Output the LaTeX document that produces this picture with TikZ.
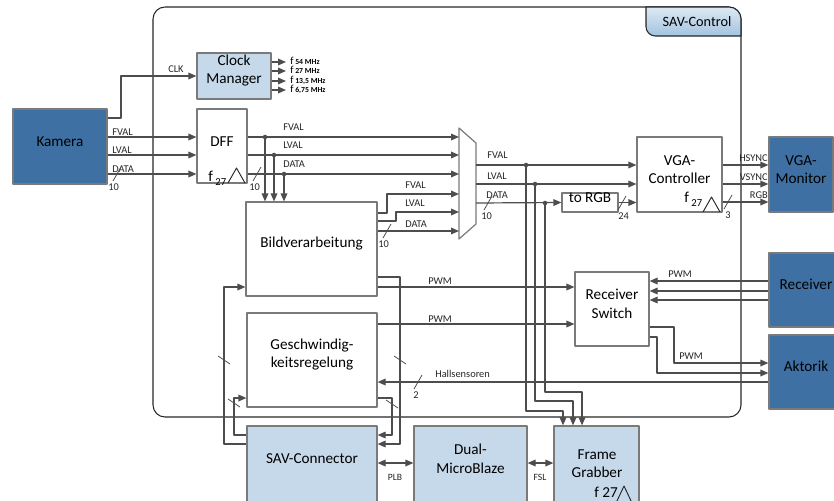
\documentclass[tikz,border=0pt]{standalone}
\usepackage{fontspec}
\setmainfont{Carlito}
\usetikzlibrary{arrows.meta,positioning,calc,fit}
\definecolor{extblue}{HTML}{3E70A3}
\definecolor{socblue}{HTML}{C6D9EA}
\definecolor{wiregray}{HTML}{4D4D4D}
\definecolor{edgegray}{HTML}{7A7A7A}
\definecolor{tabtop}{HTML}{DDE9F4}
\definecolor{tabbot}{HTML}{A3C3DE}

\begin{document}
\begin{tikzpicture}[x=0.75pt,y=-0.75pt,line join=round,
  >={Triangle[length=6pt,width=5pt]},
  blk/.style={draw=edgegray,line width=0.9pt,fill=white,inner sep=0pt,align=center,
    font=\fontsize{11.4}{13.6}\selectfont},
  extblk/.style={blk,fill=extblue},
  socblk/.style={blk,fill=socblue},
  wire/.style={draw=wiregray,line width=0.9pt},
  sig/.style={wire,->},
  bsig/.style={wire,<->},
  tag/.style={font=\fontsize{7.8}{9}\selectfont,inner sep=0pt,text=black!85},
  big/.style={font=\fontsize{11.4}{13.6}\selectfont,inner sep=0pt},
  dot/.style={circle,fill=wiregray,inner sep=0pt,minimum size=3.4pt},
  tick/.style={draw=wiregray,line width=0.6pt},
  clkmark/.style={draw=black!85,line width=0.7pt}]
\useasboundingbox (0,0) rectangle (834,500);

\node[fit={(153,7) (741,417)},draw=black!85,line width=0.8pt,rounded corners=9pt,inner sep=0pt] (ctl) {};
\draw[black!85,line width=0.8pt,top color=tabtop,bottom color=tabbot]
  (646,7) [rounded corners=7pt] -- (646,36) [sharp corners] -- (741,36)
  [rounded corners=9pt] -- (741,7) [sharp corners] -- cycle;
\node[inner sep=0pt,font=\fontsize{10.7}{12}\selectfont] (ctltag) at (697,22) {SAV-Control};

\node[extblk,fit={(13,109) (107,184)}] (kam) {Kamera};
\node[socblk,fit={(197,53) (271,99)}] (clk) {Clock\\Manager};
\node[blk,fit={(197,109) (247,183)}] (dff) {DFF};
\node[blk,fit={(246,202) (377,296)}] (bild) {Bildverarbeitung};
\node[blk,fit={(247,313) (377,407)}] (gesch) {Geschwindig-\\keitsregelung};
\node[socblk,fit={(247,426) (377,502)}] (sav) {SAV-Connector};
\node[socblk,fit={(414,426) (527,502)}] (mb) {Dual-\\MicroBlaze};
\node[socblk,fit={(554,426) (639,520)}] (fg) {};
\node[big,align=center] (fgname) at (597,464) {Frame\\Grabber};
\node[big,anchor=base west] (fgclk) at (594,497) {f 27};
\draw[clkmark] (616,503) -- (624,486) -- (632,503);
\node[blk,fit={(562,193) (618,212)}] (rgb) {to RGB};
\node[blk,fit={(637,137) (722,212)}] (vga) {VGA-\\Controller};
\node[extblk,fit={(769,137) (833,212)}] (mon) {VGA-\\Monitor};
\node[blk,fit={(575,272) (649,346)}] (rsw) {Receiver\\Switch};
\node[extblk,fit={(769,253) (843,327)}] (rcv) {Receiver};
\node[extblk,fit={(769,335) (843,409)}] (akt) {Aktorik};

\draw[draw=edgegray,line width=0.9pt,fill=white] (459,128) -- (476,143) -- (476,224) -- (459,239) -- cycle;
\coordinate (muxin) at (459,183);
\coordinate (muxout) at (476,183);

\node[big,anchor=base west] (dffclk) at (208,181) {f\,\raisebox{-3pt}{\fontsize{8}{9}\selectfont 27}};
\draw[clkmark] (228,183) -- (236.5,168) -- (245,183);
\node[big,anchor=base west] (vgaclk) at (684,202) {f\,\raisebox{-3pt}{\fontsize{8}{9}\selectfont 27}};
\draw[clkmark] (703,212) -- (711.5,197) -- (720,212);

\draw[sig] (kam.east |- 0,118) -- (121,118) |- (clk.west);
\node[tag,anchor=base west] (clkl) at (168,72) {CLK};
\foreach \fy/\fs [count=\i] in {62/54 MHz,71/27 MHz,81/{13,5 MHz},90/{6,75 MHz}}{
  \coordinate (fo\i) at (286,\fy);
  \draw[sig] (clk.east |- fo\i) -- (fo\i);
  \node[anchor=base west,inner sep=0pt] (fl\i) at (290,\fy+2)
    {\fontsize{8}{8}\selectfont f\,\fontsize{5.8}{6}\selectfont\bfseries\fs};
}

\foreach \ry/\rn in {137/FVAL,155/LVAL,174/DATA}{
  \draw[sig] (kam.east |- 0,\ry) -- (dff.west |- 0,\ry);
  \draw[sig] (dff.east |- 0,\ry) -- (muxin |- 0,\ry);
  \node[tag,anchor=base west] (kl\rn) at (112,\ry-2) {\rn};
  \node[tag,anchor=base west] (dl\rn) at (283,\ry-7) {\rn};
}
\foreach \tx/\ty in {265/137,274/155,284/174}{
  \node[dot] (tp\tx) at (\tx,\ty) {};
  \draw[sig] (tp\tx.center) -- (tp\tx.center |- bild.north);
}

\draw[sig] (bild.east |- 0,213) -- (387,213) |- (muxin |- 0,194);
\draw[sig] (bild.east |- 0,221) -- (396,221) |- (muxin |- 0,212);
\draw[sig] (bild.east |- 0,231) -- (muxin |- 0,231);
\node[tag,anchor=base west] (blF) at (405,188) {FVAL};
\node[tag,anchor=base west] (blL) at (405,206) {LVAL};
\node[tag,anchor=base west] (blD) at (405,227) {DATA};

\draw[sig] (muxout |- 0,165) -- (vga.west |- 0,165);
\draw[sig] (muxout |- 0,184) -- (vga.west |- 0,184);
\draw[sig] (muxout |- 0,203) -- (rgb.west);
\draw[sig] (rgb.east) -- (vga.west |- rgb.east);
\node[tag,anchor=base west] (mlF) at (487,158) {FVAL};
\node[tag,anchor=base west] (mlL) at (487,179) {LVAL};
\node[tag,anchor=base west] (mlD) at (486,198) {DATA};
\foreach \tx/\ty/\hy/\gx in {526/165/411/563,535/184/401/573,545/203/392/582}{
  \node[dot] (mt\tx) at (\tx,\ty) {};
  \draw[sig] (mt\tx.center) |- (\gx,\hy) -- (\gx,0 |- fg.north);
}

\foreach \vy/\vn in {165/HSYNC,184/VSYNC,202/RGB}{
  \draw[sig] (vga.east |- 0,\vy) -- (mon.west |- 0,\vy);
  \node[tag,anchor=base east] (vl\vn) at (768,\vy-4) {\vn};
}

\draw[sig] (bild.east |- 0,287) -- (rsw.west |- 0,287);
\draw[sig] (gesch.east |- 0,324) -- (rsw.west |- 0,324);
\node[tag,anchor=base west] (pwm1) at (428,284) {PWM};
\node[tag,anchor=base west] (pwm2) at (428,322) {PWM};
\foreach \ry in {281,291,300}
  \draw[sig] (rcv.west |- 0,\ry) -- (rsw.east |- 0,\ry);
\node[tag,anchor=base west] (pwm3) at (668,277) {PWM};
\draw[sig] (rsw.east |- 0,327) -- (674,327) |- (akt.west |- 0,363);
\draw[sig] (rsw.east |- 0,337) -- (657,337) |- (akt.west |- 0,373);
\node[tag,anchor=base west] (pwm4) at (679,359) {PWM};
\draw[sig] (akt.west |- 0,382) -- (gesch.east |- 0,382);
\node[tag,anchor=base west] (hall) at (435,377) {Hallsensoren};

\draw[sig] (sav.west |- 0,444) -- (224,444) |- (bild.west |- 0,287);
\draw[sig] (sav.west |- 0,435) -- (234,435) |- (gesch.west |- 0,398);
\draw[sig] (bild.east |- 0,277) -- (400,277) |- (sav.east |- 0,444);
\draw[sig] (gesch.east |- 0,398) -- (392,398) |- (sav.east |- 0,435);

\draw[bsig] (sav.east |- 0,463) -- (mb.west |- 0,463);
\draw[bsig] (mb.east |- 0,463) -- (fg.west |- 0,463);
\node[tag,font=\fontsize{7.2}{8}\selectfont] (plb) at (395,477) {PLB};
\node[tag,font=\fontsize{7.2}{8}\selectfont] (fsl) at (540,477) {FSL};

\foreach \tx/\ty/\tn/\lx in {117/174/10/108,257/174/10/249,387/231/10/378,488/203/10/481,622/203/24/618,728/202/3/725,418/382/2/413}{
  \draw[tick] (\tx-4,\ty+7) -- (\tx+4,\ty-7);
  \node[tag,anchor=north west] (bw\tx) at (\lx,\ty+9) {\tn};
}
\foreach \tx/\ty in {224/360,400/360,234/403,392/404}
  \draw[tick] (\tx-6,\ty-4) -- (\tx+6,\ty+4);
\end{tikzpicture}
\end{document}
